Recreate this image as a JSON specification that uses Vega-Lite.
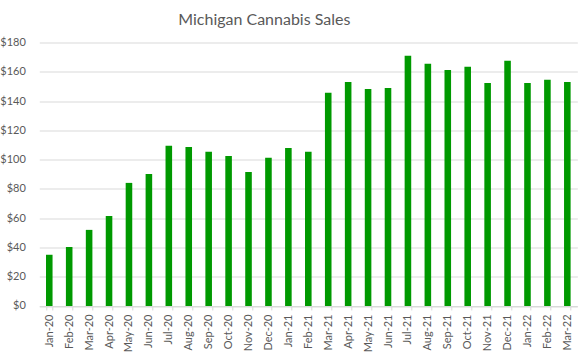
{
  "$schema": "https://vega.github.io/schema/vega-lite/v6.json",
  "width": 538,
  "height": 263.5,
  "autosize": {"type": "none"},
  "padding": {"left": 39.3, "top": 42.5, "right": 5, "bottom": 57},
  "background": "white",
  "title": {
    "text": "Michigan Cannabis Sales",
    "font": "Lato",
    "fontSize": 16,
    "fontWeight": "normal",
    "color": "#595959",
    "anchor": "middle",
    "frame": "group",
    "dx": -44,
    "dy": 23,
    "baseline": "bottom",
    "offset": 16
  },
  "data": {
    "values": [
      {"month": "Jan-20", "sales": 35},
      {"month": "Feb-20", "sales": 40.3},
      {"month": "Mar-20", "sales": 52},
      {"month": "Apr-20", "sales": 61.5},
      {"month": "May-20", "sales": 84.1},
      {"month": "Jun-20", "sales": 90.2},
      {"month": "Jul-20", "sales": 109.4},
      {"month": "Aug-20", "sales": 108.7},
      {"month": "Sep-20", "sales": 105.3},
      {"month": "Oct-20", "sales": 102.5},
      {"month": "Nov-20", "sales": 91.6},
      {"month": "Dec-20", "sales": 101.2},
      {"month": "Jan-21", "sales": 108},
      {"month": "Feb-21", "sales": 105.3},
      {"month": "Mar-21", "sales": 145.6},
      {"month": "Apr-21", "sales": 153.1},
      {"month": "May-21", "sales": 148.3},
      {"month": "Jun-21", "sales": 149},
      {"month": "Jul-21", "sales": 170.9},
      {"month": "Aug-21", "sales": 165.4},
      {"month": "Sep-21", "sales": 161.3},
      {"month": "Oct-21", "sales": 163.4},
      {"month": "Nov-21", "sales": 152.4},
      {"month": "Dec-21", "sales": 167.5},
      {"month": "Jan-22", "sales": 152.4},
      {"month": "Feb-22", "sales": 154.5},
      {"month": "Mar-22", "sales": 153.1}
    ]
  },
  "mark": {"type": "bar", "color": "#009900"},
  "encoding": {
    "x": {
      "field": "month",
      "type": "nominal",
      "sort": null,
      "scale": {"paddingInner": 0.67, "paddingOuter": 0.335},
      "axis": {
        "title": null,
        "labelAngle": -90,
        "labelFont": "Lato",
        "labelFontSize": 11,
        "labelColor": "#595959",
        "labelPadding": 4,
        "tickBand": "extent",
        "tickSize": 4,
        "tickColor": "#d9d9d9",
        "domainColor": "#d9d9d9",
        "grid": false
      }
    },
    "y": {
      "field": "sales",
      "type": "quantitative",
      "scale": {"domain": [0, 180], "nice": false},
      "axis": {
        "title": null,
        "values": [0, 20, 40, 60, 80, 100, 120, 140, 160, 180],
        "format": "$.0f",
        "labelFont": "Lato",
        "labelFontSize": 11,
        "labelColor": "#595959",
        "labelPadding": 14,
        "ticks": false,
        "domain": false,
        "gridColor": "#d9d9d9"
      }
    }
  },
  "config": {"view": {"stroke": null}}
}
